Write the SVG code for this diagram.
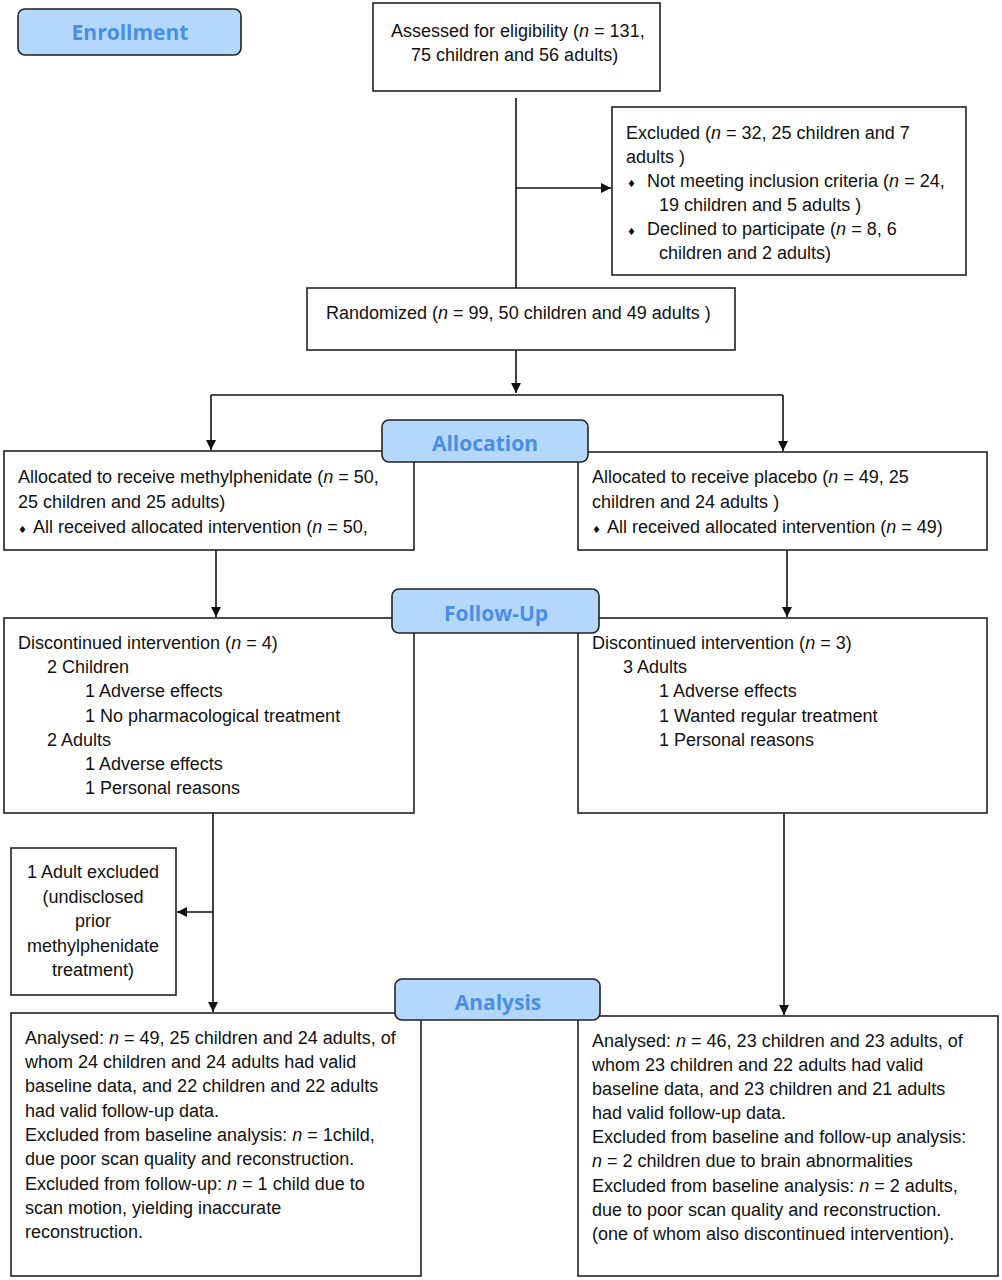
<svg xmlns="http://www.w3.org/2000/svg" width="1002" height="1280" viewBox="0 0 1002 1280">
<style>
.box{fill:#fff;stroke:#222;stroke-width:1.6}
.lab{fill:#b3d8fb;stroke:#222;stroke-width:1.6}
.lt{font-family:"Open Sans","DejaVu Sans",sans-serif;font-weight:bold;font-size:21px;fill:#4a8ee6;text-anchor:middle}
.t{font-family:"Liberation Sans",Arial,sans-serif;font-size:18px;fill:#111}
.c{text-anchor:middle}
.b{font-family:"DejaVu Sans",sans-serif;font-size:10px}
.ln{stroke:#111;stroke-width:1.6;fill:none}
</style>
<defs>
<marker id="ar" viewBox="0 0 10 10" refX="10" refY="5" markerWidth="10" markerHeight="10" markerUnits="userSpaceOnUse" orient="auto">
<path d="M0,0 L10,5 L0,10 z" fill="#111"/>
</marker>
</defs>
<rect width="1002" height="1280" fill="#fff"/>
<g id="connectors">
<line class="ln" x1="516" y1="98" x2="516" y2="288"/>
<line class="ln" x1="516" y1="188" x2="611" y2="188" marker-end="url(#ar)"/>
<line class="ln" x1="516" y1="350" x2="516" y2="393" marker-end="url(#ar)"/>
<line class="ln" x1="211" y1="395" x2="783" y2="395"/>
<line class="ln" x1="211" y1="395" x2="211" y2="450" marker-end="url(#ar)"/>
<line class="ln" x1="783" y1="395" x2="783" y2="451" marker-end="url(#ar)"/>
<line class="ln" x1="216" y1="550" x2="216" y2="617" marker-end="url(#ar)"/>
<line class="ln" x1="787" y1="550" x2="787" y2="617" marker-end="url(#ar)"/>
<line class="ln" x1="213" y1="813" x2="213" y2="1012" marker-end="url(#ar)"/>
<line class="ln" x1="213" y1="912" x2="177" y2="912" marker-end="url(#ar)"/>
<line class="ln" x1="784" y1="813" x2="784" y2="1015" marker-end="url(#ar)"/>
</g>
<g id="assessed">
<rect class="box" x="373" y="3" width="287" height="88"/>
<text class="t" x="391" y="37">Assessed for eligibility (<tspan font-style="italic">n</tspan> = 131,</text>
<text class="t" x="411" y="61">75 children and 56 adults)</text>
</g>
<g id="excluded">
<rect class="box" x="612" y="107" width="354" height="168"/>
<text class="t" x="626" y="139">Excluded (<tspan font-style="italic">n</tspan> = 32, 25 children and 7</text>
<text class="t" x="626" y="163">adults )</text>
<text class="t" x="627" y="187"><tspan class="b">♦</tspan><tspan x="647">Not meeting inclusion criteria (</tspan><tspan font-style="italic">n</tspan> = 24,</text>
<text class="t" x="659" y="211">19 children and 5 adults )</text>
<text class="t" x="627" y="235"><tspan class="b">♦</tspan><tspan x="647">Declined to participate (</tspan><tspan font-style="italic">n</tspan> = 8, 6</text>
<text class="t" x="659" y="259">children and 2 adults)</text>
</g>
<g id="randomized">
<rect class="box" x="307" y="288" width="428" height="62"/>
<text class="t" x="326" y="319">Randomized (<tspan font-style="italic">n</tspan> = 99, 50 children and 49 adults )</text>
</g>
<g id="alloc-left">
<rect class="box" x="4" y="451" width="410" height="99"/>
<text class="t" x="18" y="483">Allocated to receive methylphenidate (<tspan font-style="italic">n</tspan> = 50,</text>
<text class="t" x="18" y="508">25 children and 25 adults)</text>
<text class="t" x="18" y="533"><tspan class="b">♦</tspan><tspan x="33">All received allocated intervention (</tspan><tspan font-style="italic">n</tspan> = 50,</text>
</g>
<g id="alloc-right">
<rect class="box" x="578" y="452" width="409" height="98"/>
<text class="t" x="592" y="483">Allocated to receive placebo (<tspan font-style="italic">n</tspan> = 49, 25</text>
<text class="t" x="592" y="508">children and 24 adults )</text>
<text class="t" x="592" y="533"><tspan class="b">♦</tspan><tspan x="607">All received allocated intervention (</tspan><tspan font-style="italic">n</tspan> = 49)</text>
</g>
<g id="follow-left">
<rect class="box" x="4" y="618" width="410" height="195"/>
<text class="t" x="18" y="649">Discontinued intervention (<tspan font-style="italic">n</tspan> = 4)</text>
<text class="t" x="47" y="673">2 Children</text>
<text class="t" x="85" y="697">1 Adverse effects</text>
<text class="t" x="85" y="722">1 No pharmacological treatment</text>
<text class="t" x="47" y="746">2 Adults</text>
<text class="t" x="85" y="770">1 Adverse effects</text>
<text class="t" x="85" y="794">1 Personal reasons</text>
</g>
<g id="follow-right">
<rect class="box" x="578" y="618" width="409" height="195"/>
<text class="t" x="592" y="649">Discontinued intervention (<tspan font-style="italic">n</tspan> = 3)</text>
<text class="t" x="623" y="673">3 Adults</text>
<text class="t" x="659" y="697">1 Adverse effects</text>
<text class="t" x="659" y="722">1 Wanted regular treatment</text>
<text class="t" x="659" y="746">1 Personal reasons</text>
</g>
<g id="adult-excluded">
<rect class="box" x="11" y="848" width="165" height="147"/>
<text class="t c" x="93" y="878">1 Adult excluded</text>
<text class="t c" x="93" y="903">(undisclosed</text>
<text class="t c" x="93" y="927">prior</text>
<text class="t c" x="93" y="952">methylphenidate</text>
<text class="t c" x="93" y="976">treatment)</text>
</g>
<g id="analysis-left">
<rect class="box" x="11" y="1013" width="410" height="263"/>
<text class="t" x="25" y="1044">Analysed: <tspan font-style="italic">n</tspan> = 49, 25 children and 24 adults, of</text>
<text class="t" x="25" y="1068">whom 24 children and 24 adults had valid</text>
<text class="t" x="25" y="1092">baseline data, and 22 children and 22 adults</text>
<text class="t" x="25" y="1117">had valid follow-up data.</text>
<text class="t" x="25" y="1141">Excluded from baseline analysis: <tspan font-style="italic">n</tspan> = 1child,</text>
<text class="t" x="25" y="1165">due poor scan quality and reconstruction.</text>
<text class="t" x="25" y="1190">Excluded from follow-up: <tspan font-style="italic">n</tspan> = 1 child due to</text>
<text class="t" x="25" y="1214">scan motion, yielding inaccurate</text>
<text class="t" x="25" y="1238">reconstruction.</text>
</g>
<g id="analysis-right">
<rect class="box" x="578" y="1016" width="420" height="260"/>
<text class="t" x="592" y="1047">Analysed: <tspan font-style="italic">n</tspan> = 46, 23 children and 23 adults, of</text>
<text class="t" x="592" y="1071">whom 23 children and 22 adults had valid</text>
<text class="t" x="592" y="1095">baseline data, and 23 children and 21 adults</text>
<text class="t" x="592" y="1119">had valid follow-up data.</text>
<text class="t" x="592" y="1143">Excluded from baseline and follow-up analysis:</text>
<text class="t" x="592" y="1167"><tspan font-style="italic">n</tspan> = 2 children due to brain abnormalities</text>
<text class="t" x="592" y="1192">Excluded from baseline analysis: <tspan font-style="italic">n</tspan> = 2 adults,</text>
<text class="t" x="592" y="1216">due to poor scan quality and reconstruction.</text>
<text class="t" x="592" y="1240">(one of whom also discontinued intervention).</text>
</g>
<g id="label-enrollment">
<rect class="lab" x="18" y="9" width="223" height="46" rx="7"/>
<text class="lt" x="130" y="40">Enrollment</text>
</g>
<g id="label-allocation">
<rect class="lab" x="382" y="420" width="206" height="42" rx="7"/>
<text class="lt" x="485" y="451">Allocation</text>
</g>
<g id="label-followup">
<rect class="lab" x="392" y="589" width="207" height="44" rx="7"/>
<text class="lt" x="496" y="621">Follow-Up</text>
</g>
<g id="label-analysis">
<rect class="lab" x="395" y="979" width="205" height="41" rx="7"/>
<text class="lt" x="498" y="1010">Analysis</text>
</g>
</svg>
